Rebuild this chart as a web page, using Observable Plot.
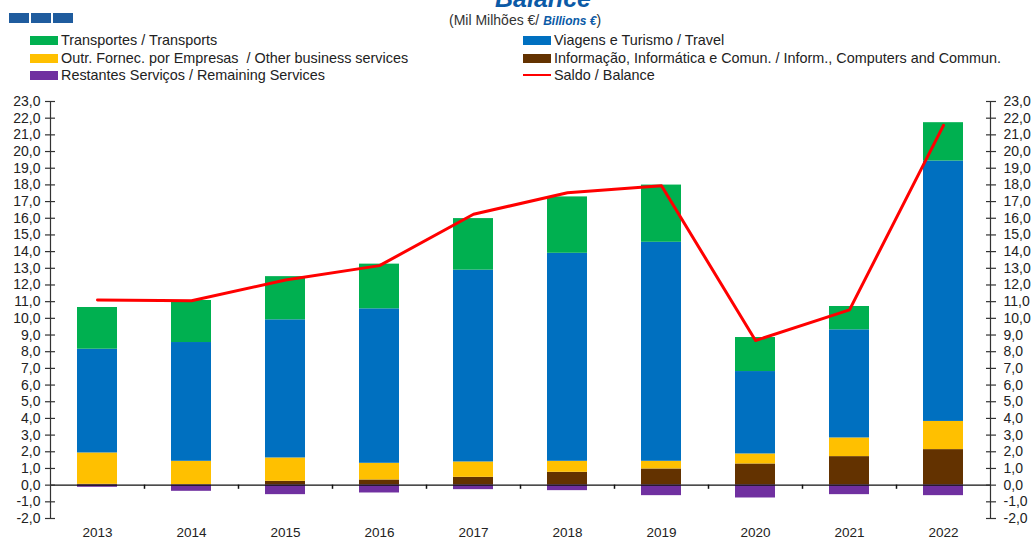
<!DOCTYPE html>
<html><head><meta charset="utf-8">
<script src="https://cdn.jsdelivr.net/npm/d3@7"></script>
<script src="https://cdn.jsdelivr.net/npm/@observablehq/plot@0.6"></script>
<style>
body{margin:0;background:#fff;font-family:"Liberation Sans",Arial,sans-serif;color:#222;}
#wrap{width:1033px;height:540px;overflow:hidden;position:relative;background:#fff}
#head{position:relative;height:90px;width:1033px;overflow:hidden}
.sq{position:absolute;top:13px;width:20px;height:10px;background:#1F5C9E}
#title{position:absolute;left:0;width:1086px;text-align:center;top:-14px;font-size:25px;line-height:25px;font-weight:bold;font-style:italic;color:#0B5AA6}
#sub{position:absolute;left:449px;top:12px;font-size:14px;line-height:17px;color:#333;white-space:nowrap}
#sub b{font-style:italic;color:#0B5AA6;font-size:12px}
.leg{position:absolute;font-size:14.4px;line-height:16px;white-space:pre;display:flex;align-items:center;color:#222}
.sw{display:inline-block;width:28px;height:9px;margin-right:3px}
.ln{display:inline-block;width:28px;height:2px;margin-right:3px;background:#FF0000}
</style></head><body>
<div id="wrap">
<div id="head">
  <div class="sq" style="left:9px"></div><div class="sq" style="left:31px"></div><div class="sq" style="left:53px"></div>
  <div id="title">Balance</div>
  <div id="sub">(Mil Milhões €/ <b>Billions €</b>)</div>
  <div id="legend"></div>
</div>
<div id="chart"></div>
</div>
<script>
const years = ["2013","2014","2015","2016","2017","2018","2019","2020","2021","2022"];
const seriesNames = [
  "Informação, Informática e Comun. / Inform., Computers and Commun.",
  "Outr. Fornec. por Empresas  / Other business services",
  "Viagens e Turismo / Travel",
  "Transportes / Transports",
  "Restantes Serviços / Remaining Services"
];
const seriesColors = ["#633200","#FFC000","#0070C0","#00B050","#7030A0"];
const infoComp  = [0.05, 0.02, 0.23, 0.31, 0.47, 0.77, 0.97, 1.27, 1.71, 2.13];
const otherBus  = [1.88, 1.41, 1.40, 1.00, 0.92, 0.66, 0.46, 0.60, 1.12, 1.69];
const travel    = [6.22, 7.12, 8.28, 9.26, 11.50, 12.47, 13.13, 4.94, 6.48, 15.61];
const transport = [2.50, 2.52, 2.59, 2.68, 3.09, 3.38, 3.43, 2.04, 1.40, 2.30];
const remaining = [-0.13, -0.37, -0.57, -0.47, -0.27, -0.33, -0.63, -0.77, -0.57, -0.63];
const balance   = [11.10, 11.05, 12.30, 13.16, 16.24, 17.53, 17.95, 8.67, 10.51, 21.57];
const balanceName = "Saldo / Balance";
const yTickValues = [-2,-1,0,1,2,3,4,5,6,7,8,9,10,11,12,13,14,15,16,17,18,19,20,21,22,23];

// legend (HTML)
const legendItems = [
  {name: seriesNames[3], color: seriesColors[3], left: 30, top: 32},
  {name: seriesNames[1], color: seriesColors[1], left: 30, top: 50},
  {name: seriesNames[4], color: seriesColors[4], left: 30, top: 67},
  {name: seriesNames[2], color: seriesColors[2], left: 523, top: 32},
  {name: seriesNames[0], color: seriesColors[0], left: 523, top: 50},
  {name: balanceName, color: null, left: 523, top: 67}
];
const legend = document.getElementById("legend");
legendItems.forEach(it => {
  const d = document.createElement("div");
  d.className = "leg";
  d.style.left = it.left + "px";
  d.style.top = it.top + "px";
  const s = document.createElement("span");
  if (it.color) { s.className = "sw"; s.style.background = it.color; } else { s.className = "ln"; }
  d.appendChild(s);
  d.appendChild(document.createTextNode(it.name));
  legend.appendChild(d);
});

const seriesValues = [infoComp, otherBus, travel, transport, remaining];
const data = [];
seriesNames.forEach((name, k) => years.forEach((y, i) => data.push({year: y, series: name, value: seriesValues[k][i]})));
const lineData = years.map((y, i) => ({year: y, value: balance[i]}));

const fmt = d => d.toFixed(1).replace(".", ",");
const half = 47;

const chart = Plot.plot({
  width: 1033, height: 450,
  marginLeft: 50, marginRight: 43, marginTop: 11, marginBottom: 22,
  x: {domain: years, paddingInner: 0.574, paddingOuter: 0.287, axis: null},
  y: {domain: [-2, 23], axis: null},
  color: {domain: seriesNames, range: seriesColors},
  style: {fontFamily: "Liberation Sans, Arial, sans-serif", fontSize: "14px", color: "#222", background: "#fff", overflow: "visible"},
  marks: [
    Plot.barY(data, {x: "year", y: "value", fill: "series"}),
    Plot.ruleY([0], {stroke: "#111", strokeWidth: 1.2}),
    Plot.ruleX(years.slice(1), {x: d => d, y1: 0, y2: -0.25, dx: -half, stroke: "#111", strokeWidth: 1.5}),
    Plot.ruleX([years[0]], {x: d => d, y1: -2, y2: 23, dx: -half, stroke: "#333", strokeWidth: 1.2}),
    Plot.ruleX([years[years.length - 1]], {x: d => d, y1: -2, y2: 23, dx: half, stroke: "#333", strokeWidth: 1.2}),
    Plot.axisY(yTickValues, {anchor: "left", tickSize: 10, dx: 5, fill: "none", label: null, stroke: "#333", strokeWidth: 1.2}),
    Plot.axisY(yTickValues, {anchor: "right", tickSize: 10, dx: -5, fill: "none", label: null, stroke: "#333", strokeWidth: 1.2}),
    Plot.axisY(yTickValues, {anchor: "left", tickSize: 0, tickPadding: 10, tickFormat: fmt, label: null, fontSize: 14, fill: "#222"}),
    Plot.axisY(yTickValues, {anchor: "right", tickSize: 0, tickPadding: 13, tickFormat: fmt, label: null, fontSize: 14, fill: "#222"}),
    Plot.axisX({anchor: "bottom", tickSize: 0, tickPadding: 9, label: null, fontSize: 13.5, fill: "#222"}),
    Plot.line(lineData, {x: "year", y: "value", stroke: "#FF0000", strokeWidth: 3})
  ]
});
document.getElementById("chart").appendChild(chart);
</script>
</body></html>
